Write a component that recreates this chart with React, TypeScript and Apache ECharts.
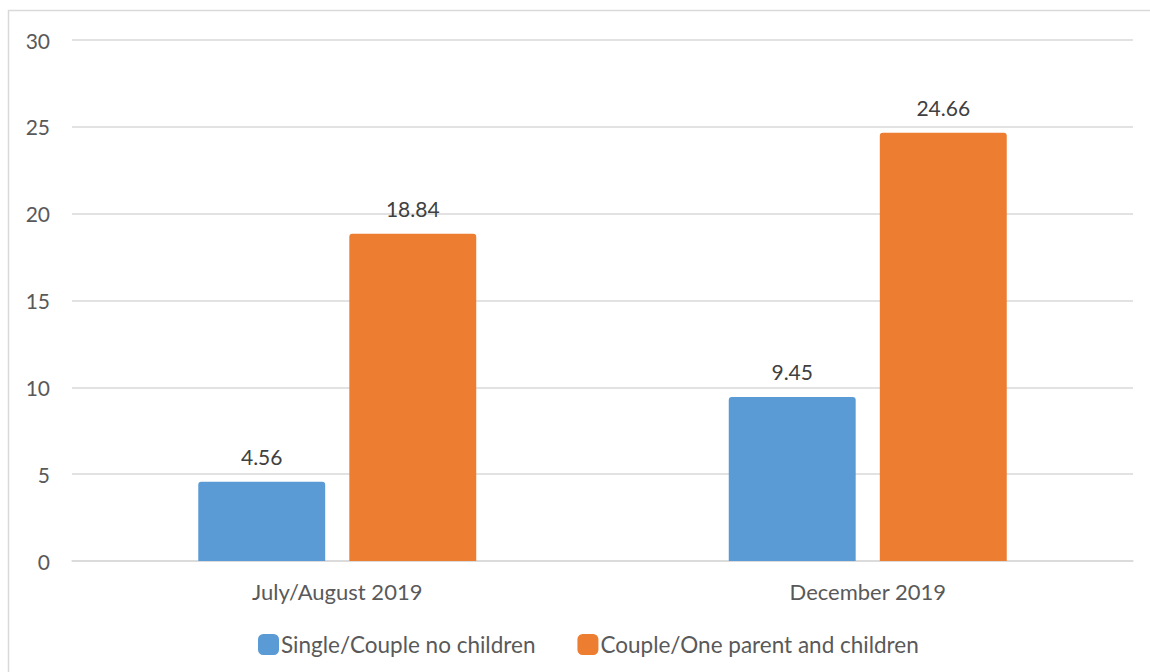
import React, { useEffect, useRef } from "react";
import * as echarts from "echarts";

const categories = ["July/August 2019", "December 2019"];
const seriesNames = ["Single/Couple no children", "Couple/One parent and children"];
const singleValues = [4.56, 9.45];
const coupleValues = [18.84, 24.66];
const colors = ["#5B9BD5", "#ED7D31"];

export default function App() {
  const ref = useRef<HTMLDivElement>(null);
  useEffect(() => {
    if (!ref.current) return;
    const chart = echarts.init(ref.current, undefined, { renderer: "svg" });
    const font = "Lato, 'Noto Sans', sans-serif";
    const label = {
      show: true,
      position: "top",
      distance: 15,
      color: "#404040",
      fontSize: 21,
      fontFamily: font,
    };
    chart.setOption({
      animation: false,
      backgroundColor: "#ffffff",
      textStyle: { fontFamily: font },
      graphic: [
        {
          type: "rect",
          shape: { x: 8.5, y: 10.5, width: 1300, height: 800 },
          style: { fill: "none", stroke: "#d9d9d9", lineWidth: 1.5 },
          silent: true,
          z: -10,
        },
      ],
      grid: { left: 72, right: 17, top: 40, bottom: 111 },
      legend: {
        top: 628,
        left: 253,
        itemWidth: 21,
        itemHeight: 21,
        itemGap: 42,
        icon: "roundRect",
        textStyle: { color: "#595959", fontSize: 22.5, fontFamily: font, padding: [0, 0, 0, -3] },
        data: seriesNames,
      },
      xAxis: {
        type: "category",
        data: categories,
        axisLine: { lineStyle: { color: "#d9d9d9", width: 1.5 } },
        axisTick: { show: false },
        axisLabel: { color: "#595959", fontSize: 22, fontFamily: font, margin: 19 },
      },
      yAxis: {
        type: "value",
        min: 0,
        max: 30,
        interval: 5,
        axisLine: { show: false },
        axisTick: { show: false },
        axisLabel: { color: "#595959", fontSize: 21, fontFamily: font, margin: 22 },
        splitLine: { lineStyle: { color: "#d9d9d9", width: 1.5 } },
      },
      series: [
        {
          name: seriesNames[0],
          type: "bar",
          data: singleValues,
          itemStyle: { color: colors[0], borderRadius: [3, 3, 0, 0] },
          barGap: "19%",
          barCategoryGap: "47.6%",
          label,
        },
        {
          name: seriesNames[1],
          type: "bar",
          data: coupleValues,
          itemStyle: { color: colors[1], borderRadius: [3, 3, 0, 0] },
          barGap: "19%",
          barCategoryGap: "47.6%",
          label,
        },
      ],
    });
    return () => chart.dispose();
  }, []);
  return (
    <div
      ref={ref}
      style={{ position: "fixed", left: 0, top: 0, width: 1150, height: 672 }}
    />
  );
}
